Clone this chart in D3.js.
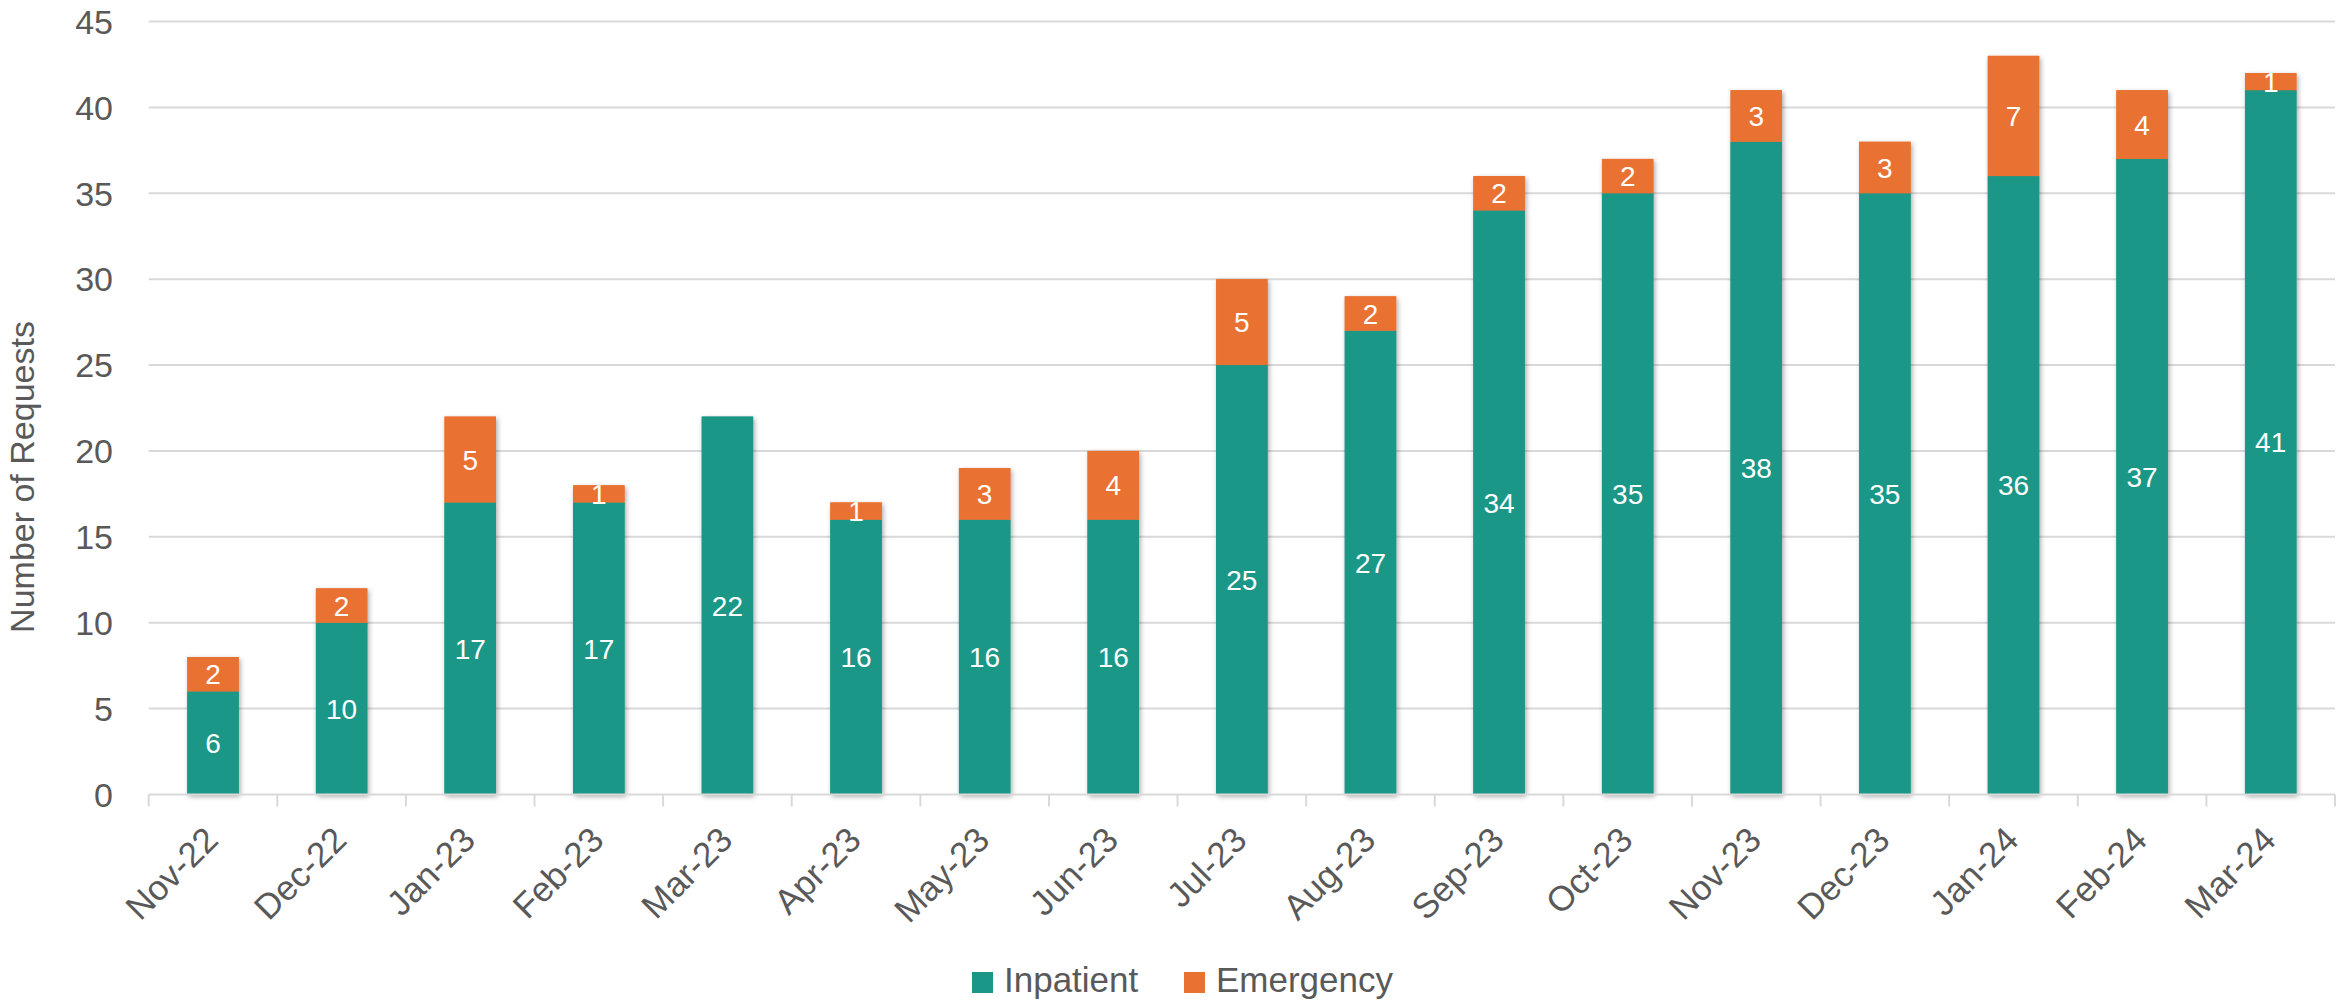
<!DOCTYPE html>
<html>
<head>
<meta charset="utf-8">
<script src="https://cdn.jsdelivr.net/npm/d3@7"></script>
<style>
  html, body { margin: 0; padding: 0; background: #fff; }
  svg { display: block; font-family: "Liberation Sans", Arial, sans-serif; }
</style>
</head>
<body>
<svg id="chart" width="2336" height="1000"></svg>
<script>
const categories = ["Nov-22","Dec-22","Jan-23","Feb-23","Mar-23","Apr-23","May-23","Jun-23","Jul-23","Aug-23","Sep-23","Oct-23","Nov-23","Dec-23","Jan-24","Feb-24","Mar-24"];
const inpatient = [6,10,17,17,22,16,16,16,25,27,34,35,38,35,36,37,41];
const emergency = [2,2,5,1,0,1,3,4,5,2,2,2,3,3,7,4,1];
const yTicks = [0,5,10,15,20,25,30,35,40,45];
const seriesNames = ["Inpatient","Emergency"];
const colors = ["#1b9788","#e97132"];

(function(){
const plotL = 148.7, plotR = 2335, plotT = 21.5, plotB = 794.5;
const svg = d3.select("#chart");

const defs = svg.append("defs");
const f = defs.append("filter").attr("id","sh").attr("x","-20%").attr("y","-20%").attr("width","140%").attr("height","140%");
f.append("feDropShadow").attr("dx",1.5).attr("dy",2).attr("stdDeviation",2.5).attr("flood-color","#000").attr("flood-opacity",0.35);

const x = d3.scaleBand().domain(categories).range([plotL, plotR]).paddingInner(0.6).paddingOuter(0.3);
const y = d3.scaleLinear().domain([0,45]).range([plotB, plotT]);
const step = x.step(), bw = x.bandwidth();

// gridlines
svg.append("g").selectAll("line").data(yTicks.filter(t => t > 0)).join("line")
  .attr("x1", plotL).attr("x2", plotR)
  .attr("y1", d => y(d)).attr("y2", d => y(d))
  .attr("stroke", "#d9d9d9").attr("stroke-width", 2);

// y tick labels
svg.append("g").selectAll("text").data(yTicks).join("text")
  .attr("x", 113).attr("y", d => y(d)).attr("dy", "0.36em")
  .attr("text-anchor", "end").attr("font-size", 34).attr("fill", "#595959")
  .text(d => d);

// y title
svg.append("text")
  .attr("transform", `translate(34,477) rotate(-90)`)
  .attr("text-anchor", "middle").attr("font-size", 34).attr("fill", "#595959")
  .text("Number of Requests");

// stacked data
const rows = categories.map((c, i) => ({cat: c, Inpatient: inpatient[i], Emergency: emergency[i]}));
const stack = d3.stack().keys(seriesNames)(rows);

const gBars = svg.append("g");
stack.forEach((s, si) => {
  gBars.append("g").attr("fill", colors[si]).attr("filter", "url(#sh)")
    .selectAll("rect").data(s.filter(d => d[1] > d[0])).join("rect")
    .attr("x", d => x(d.data.cat)).attr("width", bw)
    .attr("y", d => y(d[1])).attr("height", d => y(d[0]) - y(d[1]));
});
stack.forEach((s, si) => {
  gBars.append("g").attr("fill", colors[si])
    .selectAll("rect").data(s.filter(d => d[1] > d[0])).join("rect")
    .attr("x", d => x(d.data.cat)).attr("width", bw)
    .attr("y", d => y(d[1])).attr("height", d => y(d[0]) - y(d[1]));
});

// axis baseline and ticks
svg.append("line").attr("x1", plotL).attr("x2", plotR).attr("y1", plotB).attr("y2", plotB)
  .attr("stroke", "#d9d9d9").attr("stroke-width", 2);
const edges = categories.map(c => x(c) + bw/2 - step/2).concat([x(categories[categories.length-1]) + bw/2 + step/2]);
svg.append("g").selectAll("line").data(edges).join("line")
  .attr("x1", d => d).attr("x2", d => d).attr("y1", plotB).attr("y2", plotB + 12)
  .attr("stroke", "#d9d9d9").attr("stroke-width", 2);

// data labels
stack.forEach((s) => {
  svg.append("g").selectAll("text").data(s.filter(d => d[1] > d[0])).join("text")
    .attr("x", d => x(d.data.cat) + bw/2)
    .attr("y", d => (y(d[0]) + y(d[1])) / 2).attr("dy", "0.36em")
    .attr("text-anchor", "middle").attr("font-size", 28).attr("fill", "#fff")
    .text(d => d[1] - d[0]);
});

// x labels
svg.append("g").selectAll("text").data(categories).join("text")
  .attr("transform", d => `translate(${x(d) + bw/2 + 7},842) rotate(-45)`)
  .attr("text-anchor", "end")
  .attr("font-size", 35).attr("fill", "#595959")
  .text(d => d);

// legend
const legend = svg.append("g");
const legendX = [972, 1184];
seriesNames.forEach((n, i) => {
  legend.append("rect").attr("x", legendX[i]).attr("y", 972).attr("width", 21).attr("height", 21).attr("fill", colors[i]);
  legend.append("text").attr("x", legendX[i] + 32).attr("y", 992)
    .attr("font-size", 35).attr("fill", "#595959").text(n);
});
})();
</script>
</body>
</html>
